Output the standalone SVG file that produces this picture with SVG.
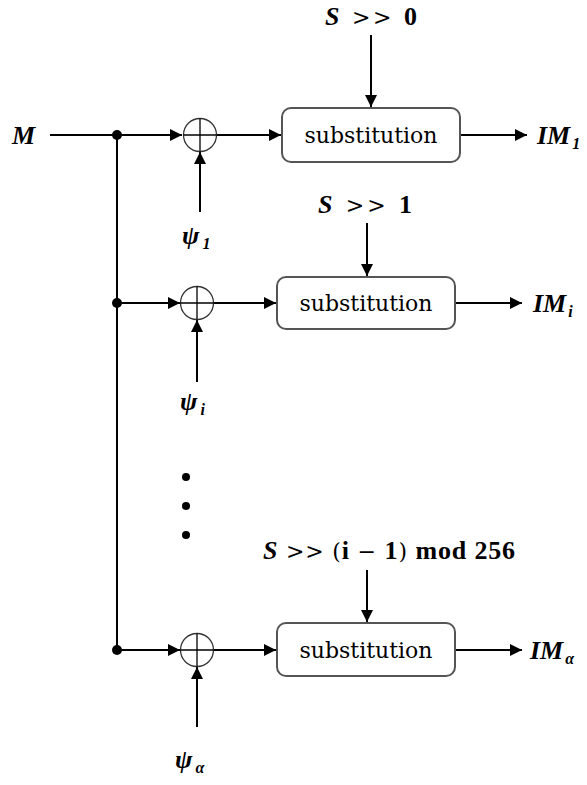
<svg xmlns="http://www.w3.org/2000/svg" width="587" height="785" viewBox="0 0 587 785">
<defs>
<style>
.ln{stroke:#000;stroke-width:2;fill:none}
.box{fill:#fff;stroke:#555;stroke-width:2}
.xor{fill:#fff;stroke:#333;stroke-width:1.3}
.lbl{font-family:"Liberation Serif","Times New Roman","DejaVu Serif",serif;font-weight:bold;font-style:italic;font-size:26px;fill:#000}
.sub{font-family:"Liberation Serif","Times New Roman","DejaVu Serif",serif;font-weight:bold;font-style:italic;font-size:16px;fill:#000}
.num{font-family:"Liberation Serif","Times New Roman","DejaVu Serif",serif;font-weight:bold;font-style:normal;font-size:26px;fill:#000}
.op{font-family:"DejaVu Serif",serif;font-weight:normal;font-style:normal;font-size:22px;fill:#000}
.txt{font-family:"DejaVu Serif",serif;font-weight:normal;font-style:normal;font-size:22px;fill:#000;text-anchor:middle}
</style>
<marker id="ah" viewBox="0 0 10 10" refX="10" refY="5" markerWidth="12" markerHeight="12" markerUnits="userSpaceOnUse" orient="auto">
<path d="M0,0 L10,5 L0,10 z" fill="#000"/>
</marker>
</defs>
<g id="connectors">
<line class="ln" x1="50" y1="135" x2="182" y2="135" marker-end="url(#ah)"/>
<line class="ln" x1="117" y1="135" x2="117" y2="650"/>
<line class="ln" x1="117" y1="303" x2="180" y2="303" marker-end="url(#ah)"/>
<line class="ln" x1="117" y1="650" x2="180" y2="650" marker-end="url(#ah)"/>
<line class="ln" x1="217" y1="135" x2="281" y2="135" marker-end="url(#ah)"/>
<line class="ln" x1="214" y1="303" x2="276" y2="303" marker-end="url(#ah)"/>
<line class="ln" x1="214" y1="650" x2="276" y2="650" marker-end="url(#ah)"/>
<line class="ln" x1="460" y1="135" x2="527" y2="135" marker-end="url(#ah)"/>
<line class="ln" x1="455" y1="303" x2="522" y2="303" marker-end="url(#ah)"/>
<line class="ln" x1="455" y1="650" x2="522" y2="650" marker-end="url(#ah)"/>
<line class="ln" x1="371" y1="35" x2="371" y2="107" marker-end="url(#ah)"/>
<line class="ln" x1="367" y1="223" x2="367" y2="276" marker-end="url(#ah)"/>
<line class="ln" x1="367" y1="570" x2="367" y2="622" marker-end="url(#ah)"/>
<line class="ln" x1="200" y1="212" x2="200" y2="152" marker-end="url(#ah)"/>
<line class="ln" x1="197" y1="382" x2="197" y2="320" marker-end="url(#ah)"/>
<line class="ln" x1="197" y1="727" x2="197" y2="667" marker-end="url(#ah)"/>
<circle cx="117" cy="135" r="5" fill="#000"/>
<circle cx="117" cy="303" r="5" fill="#000"/>
<circle cx="117" cy="650" r="5" fill="#000"/>
</g>
<g id="input-M"><text class="lbl" x="12" y="144">M</text></g>
<g id="xor1">
<circle class="xor" cx="200" cy="135" r="16.5"/>
<line x1="183.5" y1="135" x2="216.5" y2="135" stroke="#000" stroke-width="1.3"/>
<line x1="200" y1="118.5" x2="200" y2="151.5" stroke="#000" stroke-width="1.3"/>
</g>
<g id="xor2">
<circle class="xor" cx="197" cy="303" r="16.5"/>
<line x1="180.5" y1="303" x2="213.5" y2="303" stroke="#000" stroke-width="1.3"/>
<line x1="197" y1="286.5" x2="197" y2="319.5" stroke="#000" stroke-width="1.3"/>
</g>
<g id="xor3">
<circle class="xor" cx="197" cy="650" r="16.5"/>
<line x1="180.5" y1="650" x2="213.5" y2="650" stroke="#000" stroke-width="1.3"/>
<line x1="197" y1="633.5" x2="197" y2="666.5" stroke="#000" stroke-width="1.3"/>
</g>
<g id="sub1">
<rect class="box" x="282" y="108" width="178" height="54" rx="9"/>
<text class="txt" x="371" y="143">substitution</text>
</g>
<g id="sub2">
<rect class="box" x="277" y="277" width="178" height="52" rx="9"/>
<text class="txt" x="366" y="311">substitution</text>
</g>
<g id="sub3">
<rect class="box" x="277" y="623" width="178" height="53" rx="9"/>
<text class="txt" x="366" y="658">substitution</text>
</g>
<g id="key1"><text x="325" y="25" textLength="92" lengthAdjust="spacing"><tspan class="lbl">S</tspan><tspan class="op"> &gt;&gt; </tspan><tspan class="num">0</tspan></text></g>
<g id="key2"><text x="318" y="213" textLength="94" lengthAdjust="spacing"><tspan class="lbl">S</tspan><tspan class="op"> &gt;&gt; </tspan><tspan class="num">1</tspan></text></g>
<g id="key3"><text x="263" y="559" textLength="252" lengthAdjust="spacing"><tspan class="lbl">S</tspan><tspan class="op"> &gt;&gt; (</tspan><tspan class="num">i</tspan><tspan class="op"> − </tspan><tspan class="num">1</tspan><tspan class="op">) </tspan><tspan class="num">mod 256</tspan></text></g>
<g id="psi1"><text x="182" y="244"><tspan class="lbl">ψ</tspan><tspan class="sub" dx="3" dy="5">1</tspan></text></g>
<g id="psi2"><text x="180" y="410"><tspan class="lbl">ψ</tspan><tspan class="sub" dx="3" dy="5">i</tspan></text></g>
<g id="psi3"><text x="175" y="768"><tspan class="lbl">ψ</tspan><tspan class="sub" dx="3" dy="5">α</tspan></text></g>
<g id="out1"><text x="537" y="144"><tspan class="lbl">IM</tspan><tspan class="sub" dx="2" dy="5">1</tspan></text></g>
<g id="out2"><text x="533" y="312"><tspan class="lbl">IM</tspan><tspan class="sub" dx="2" dy="5">i</tspan></text></g>
<g id="out3"><text x="530" y="659"><tspan class="lbl">IM</tspan><tspan class="sub" dx="2" dy="5">α</tspan></text></g>
<g id="dots">
<circle cx="186" cy="477" r="4" fill="#000"/>
<circle cx="186" cy="506" r="4" fill="#000"/>
<circle cx="186" cy="535" r="4" fill="#000"/>
</g>
</svg>
